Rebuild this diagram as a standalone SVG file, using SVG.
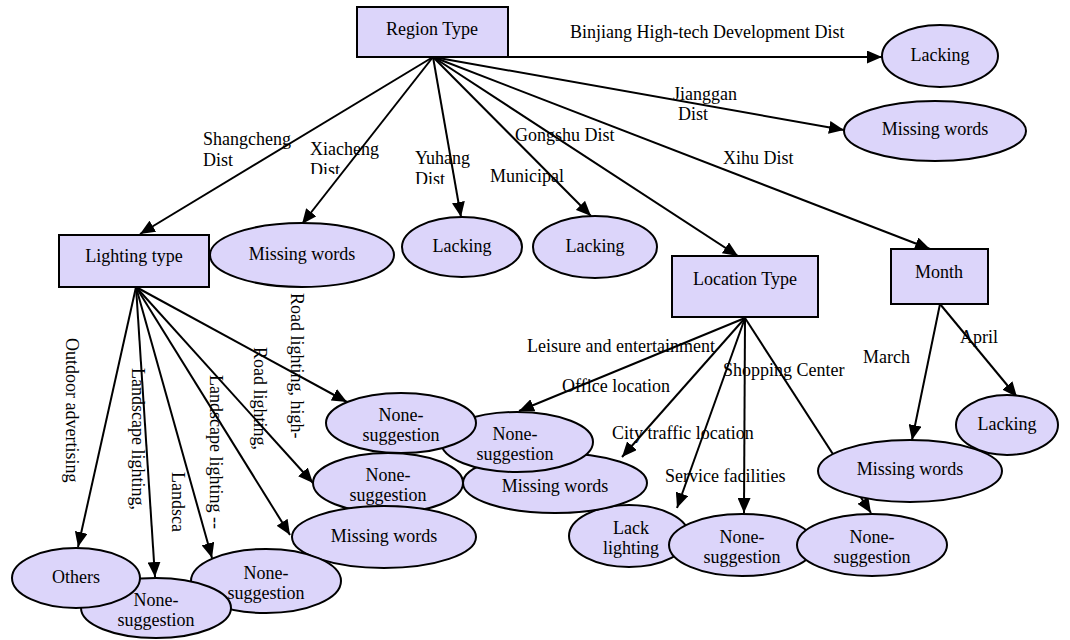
<svg xmlns="http://www.w3.org/2000/svg" width="1070" height="640" viewBox="0 0 1070 640" font-family="'Liberation Serif', 'Times New Roman', serif" font-size="18">
<style>
  .n { fill: #DCD5FA; stroke: #000; stroke-width: 2; }
  text { font-family: "Liberation Serif", "Times New Roman", serif; font-size: 18px; fill: #000; }
  .t { text-anchor: middle; }
  .e { fill: none; stroke: #000; stroke-width: 2; marker-end: url(#ah); }
</style>
<defs>
  <marker id="ah" markerUnits="userSpaceOnUse" viewBox="0 0 15 13" refX="15" refY="6.5" markerWidth="15" markerHeight="13" orient="auto">
    <path d="M0,0 L15,6.5 L0,13 z" fill="#000"/>
  </marker>
  <clipPath id="clipX"><rect x="290" y="120" width="120" height="54"/></clipPath>
  <clipPath id="clipY"><rect x="400" y="130" width="80" height="54"/></clipPath>
</defs>
<rect width="1070" height="640" fill="#fff"/>

<g id="connectors">
  <line class="e" x1="433" y1="57" x2="882" y2="57"/>
  <line class="e" x1="433" y1="57" x2="844" y2="130"/>
  <line class="e" x1="433" y1="57" x2="930" y2="249"/>
  <line class="e" x1="433" y1="57" x2="738" y2="256"/>
  <line class="e" x1="433" y1="57" x2="591" y2="216"/>
  <line class="e" x1="433" y1="57" x2="461" y2="217"/>
  <line class="e" x1="433" y1="57" x2="302" y2="224"/>
  <line class="e" x1="433" y1="57" x2="140" y2="234"/>
  <line class="e" x1="136" y1="287" x2="78" y2="547"/>
  <line class="e" x1="136" y1="287" x2="155" y2="577"/>
  <line class="e" x1="136" y1="287" x2="212" y2="558"/>
  <line class="e" x1="136" y1="287" x2="290" y2="535"/>
  <line class="e" x1="136" y1="287" x2="313" y2="483"/>
  <line class="e" x1="136" y1="287" x2="347" y2="402"/>
  <line class="e" x1="745" y1="318" x2="519" y2="411"/>
  <line class="e" x1="745" y1="318" x2="622" y2="457"/>
  <line class="e" x1="745" y1="318" x2="677" y2="508"/>
  <line class="e" x1="745" y1="318" x2="744" y2="513"/>
  <line class="e" x1="745" y1="318" x2="871" y2="513"/>
  <line class="e" x1="940" y1="304" x2="912" y2="440"/>
  <line class="e" x1="940" y1="304" x2="1017" y2="397"/>

  <text x="570" y="38">Binjiang High-tech Development Dist</text>
  <text x="673" y="100">Jianggan</text>
  <text x="678" y="120">Dist</text>
  <text x="723" y="164">Xihu Dist</text>
  <text x="515" y="141">Gongshu Dist</text>
  <text x="490" y="182">Municipal</text>
  <g clip-path="url(#clipY)">
    <text x="415" y="164">Yuhang</text>
    <text x="415" y="185">Dist</text>
  </g>
  <g clip-path="url(#clipX)">
    <text x="310" y="155">Xiacheng</text>
    <text x="310" y="176">Dist</text>
  </g>
  <text x="203" y="145">Shangcheng</text>
  <text x="203" y="166">Dist</text>

  <text transform="translate(66,338) rotate(90)">Outdoor advertising</text>
  <text transform="translate(132,368) rotate(90)">Landscape lighting,</text>
  <text transform="translate(172,472) rotate(90)">Landsca</text>
  <text transform="translate(210,375) rotate(90)">Landscape lighting --</text>
  <text transform="translate(254,347) rotate(90)">Road lighting,</text>
  <text transform="translate(291,293) rotate(90)">Road lighting, high-</text>

  <text x="527" y="352">Leisure and entertainment</text>
  <text x="562" y="392">Office location</text>
  <text x="612" y="439">City traffic location</text>
  <text x="665" y="482">Service facilities</text>
  <text x="723" y="376">Shopping Center</text>
  <text x="863" y="363">March</text>
  <text x="960" y="343">April</text>
</g>

<g id="region-type"><rect class="n" x="357" y="7" width="151" height="50"/><text class="t" x="432" y="35">Region Type</text></g>
<g id="lacking-binjiang"><ellipse class="n" cx="940" cy="56" rx="58" ry="31"/><text class="t" x="940" y="61">Lacking</text></g>
<g id="missing-jianggan"><ellipse class="n" cx="935" cy="131" rx="91" ry="30"/><text class="t" x="935" y="135">Missing words</text></g>
<g id="lighting-type"><rect class="n" x="59" y="235" width="150" height="52"/><text class="t" x="134" y="262">Lighting type</text></g>
<g id="missing-xiacheng"><ellipse class="n" cx="302" cy="255" rx="92" ry="32"/><text class="t" x="302" y="260">Missing words</text></g>
<g id="lacking-yuhang"><ellipse class="n" cx="462" cy="247" rx="60" ry="30"/><text class="t" x="462" y="252">Lacking</text></g>
<g id="lacking-municipal"><ellipse class="n" cx="595" cy="247" rx="62" ry="31"/><text class="t" x="595" y="252">Lacking</text></g>
<g id="location-type"><rect class="n" x="672" y="256" width="146" height="61"/><text class="t" x="745" y="285">Location Type</text></g>
<g id="month"><rect class="n" x="891" y="249" width="97" height="55"/><text class="t" x="939" y="278">Month</text></g>
<g id="missing-march"><ellipse class="n" cx="910" cy="471" rx="92" ry="31"/><text class="t" x="910" y="475">Missing words</text></g>
<g id="lacking-april"><ellipse class="n" cx="1007" cy="425" rx="51" ry="30"/><text class="t" x="1007" y="430">Lacking</text></g>
<g id="lack-lighting"><ellipse class="n" cx="629" cy="536" rx="60" ry="31"/><text class="t" x="631" y="534">Lack</text><text class="t" x="631" y="554">lighting</text></g>
<g id="none-service"><ellipse class="n" cx="742" cy="545" rx="73" ry="31"/><text class="t" x="742" y="543">None-</text><text class="t" x="742" y="563">suggestion</text></g>
<g id="none-shopping"><ellipse class="n" cx="872" cy="545" rx="75" ry="31"/><text class="t" x="872" y="543">None-</text><text class="t" x="872" y="563">suggestion</text></g>
<g id="missing-city"><ellipse class="n" cx="555" cy="483" rx="92" ry="30"/><text class="t" x="555" y="492">Missing words</text></g>
<g id="none-office"><ellipse class="n" cx="517" cy="442" rx="76" ry="30"/><text class="t" x="515" y="440">None-</text><text class="t" x="515" y="460">suggestion</text></g>
<g id="none-road-high"><ellipse class="n" cx="401" cy="423" rx="75" ry="30"/><text class="t" x="401" y="421">None-</text><text class="t" x="401" y="441">suggestion</text></g>
<g id="none-road"><ellipse class="n" cx="388" cy="483" rx="75" ry="30"/><text class="t" x="388" y="481">None-</text><text class="t" x="388" y="501">suggestion</text></g>
<g id="missing-landscape"><ellipse class="n" cx="384" cy="537" rx="92" ry="31"/><text class="t" x="384" y="542">Missing words</text></g>
<g id="none-landscape-dash"><ellipse class="n" cx="266" cy="581" rx="75" ry="32"/><text class="t" x="266" y="579">None-</text><text class="t" x="266" y="599">suggestion</text></g>
<g id="none-landscape"><ellipse class="n" cx="156" cy="608" rx="75" ry="30"/><text class="t" x="156" y="606">None-</text><text class="t" x="156" y="626">suggestion</text></g>
<g id="others"><ellipse class="n" cx="76" cy="578" rx="64" ry="30"/><text class="t" x="76" y="583">Others</text></g>
</svg>
